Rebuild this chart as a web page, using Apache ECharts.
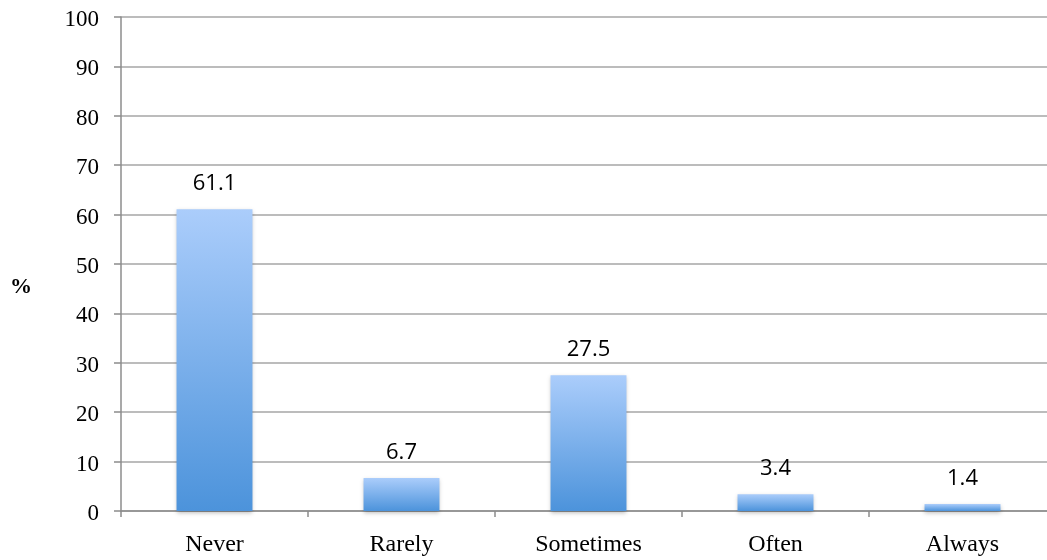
<!DOCTYPE html>
<html><head><meta charset="utf-8">
<script src="https://cdn.jsdelivr.net/npm/echarts@6/dist/echarts.min.js"></script>
<style>html,body{margin:0;padding:0;background:#fff;overflow:hidden;width:1047px;height:560px}#c{width:1060px;height:560px}</style>
</head><body><div id="c"></div>
<script>
const categories = ["Never", "Rarely", "Sometimes", "Often", "Always"];
const values = [61.1, 6.7, 27.5, 3.4, 1.4];
const yTicks = [0, 10, 20, 30, 40, 50, 60, 70, 80, 90, 100];

const chart = echarts.init(document.getElementById('c'));
const grad = new echarts.graphic.LinearGradient(0, 0, 0, 1, [
  {offset: 0, color: '#abcdfb'},
  {offset: 1, color: '#4c93db'}
]);
chart.setOption({
  animation: false,
  grid: {left: 121, right: 4, top: 17, bottom: 49},
  graphic: [{
    type: 'text', left: 10, top: 276,
    style: {text: '%', font: 'bold 22px "Liberation Serif"', fill: '#000'}
  }],
  xAxis: {
    type: 'category', data: categories,
    axisLine: {lineStyle: {color: '#8c8c8c', width: 1.5}},
    axisTick: {show: true, length: 6, lineStyle: {color: '#8c8c8c', width: 1.5}},
    axisLabel: {fontFamily: 'Liberation Serif', fontSize: 24, color: '#000', margin: 22}
  },
  yAxis: {
    type: 'value', min: yTicks[0], max: yTicks[yTicks.length - 1], interval: 10,
    axisLine: {show: true, lineStyle: {color: '#8c8c8c', width: 1.5}},
    axisTick: {show: true, length: 7, lineStyle: {color: '#8c8c8c', width: 1.5}},
    splitLine: {lineStyle: {color: '#a6a6a6', width: 1.5}},
    axisLabel: {margin: 22, formatter: '{a|{value}}',
      rich: {a: {fontFamily: 'Liberation Serif', fontSize: 23, color: '#000', padding: [6, 0, 0, 0]}}}
  },
  series: [{
    type: 'bar', data: values, barWidth: '40.6%',
    itemStyle: {color: grad, shadowColor: 'rgba(0,0,0,0.25)', shadowBlur: 4, shadowOffsetY: 2},
    label: {show: true, position: 'top', distance: 14, fontFamily: 'Open Sans', fontSize: 22, color: '#000',
      formatter: p => p.value.toFixed(1)}
  }]
});
</script></body></html>
